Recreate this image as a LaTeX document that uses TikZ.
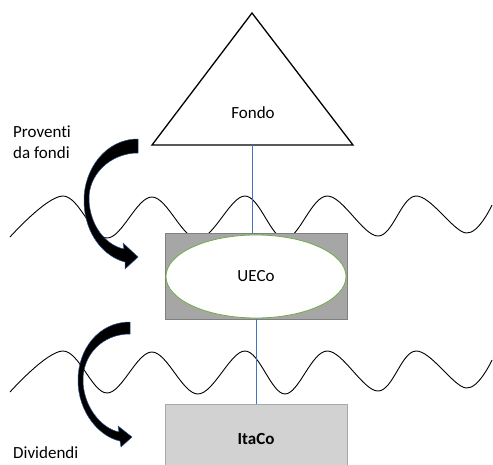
\documentclass[tikz,border=0pt]{standalone}
\usepackage{fontspec}
\setmainfont{Carlito}[Ligatures=NoCommon]
\usetikzlibrary{shapes.geometric}
\definecolor{conn}{HTML}{4472C4}
\definecolor{okgreen}{HTML}{70AD47}
\definecolor{boxdark}{HTML}{A6A6A6}
\definecolor{boxedge}{HTML}{808080}
\definecolor{boxlight}{HTML}{D2D2D2}
\definecolor{boxlightedge}{HTML}{A8A8A8}
\definecolor{arrowedge}{HTML}{2F528F}
\begin{document}
\begin{tikzpicture}[x=1pt,y=-1pt,
  lbl/.style={font=\fontsize{17}{21}\selectfont, inner sep=0pt},
  wave/.style={line width=0.9pt, black},
  bigarrow/.style={fill=black, draw=arrowedge, line width=0.5pt, line join=round},
  link/.style={draw=conn, line width=0.8pt}]
\path[use as bounding box] (0,0) rectangle (493,465);
\clip (0,0) rectangle (493,465);
\fill[white] (0,0) rectangle (493,465);

% waves
\draw[wave] plot[smooth, tension=0.6] coordinates {(10,237) (63,196) (107,238) (152,197) (198,239) (245,196) (285,239) (327,196) (378,236) (416,196) (466,233) (492,205)};
\draw[wave] plot[smooth, tension=0.6] coordinates {(10,392) (63,351) (107,393) (152,352) (198,394) (245,351) (285,394) (327,351) (378,391) (416,351) (466,388) (492,360)};

% triangle
\coordinate (apex) at (252,13);
\coordinate (bl) at (152,145);
\coordinate (br) at (353,145);
\coordinate (tribase) at (252,145);
\draw[line width=1.3pt, line join=miter, fill=white] (apex) -- (bl) -- (br) -- cycle;
\node[lbl, anchor=base] (fondo) at (253,119) {Fondo};

% UECo
\node[draw=boxedge, fill=boxdark, minimum width=182pt, minimum height=86pt, inner sep=0pt, line width=0.8pt] (uebox) at (256,276) {};
\node[ellipse, draw=okgreen, fill=white, minimum width=180pt, minimum height=83pt, inner sep=0pt, line width=0.8pt, font=\fontsize{17}{21}\selectfont] (ueco) at (256,276.5) {UECo};

% ItaCo
\node[draw=boxlightedge, fill=boxlight, minimum width=182pt, minimum height=70pt, inner sep=0pt, line width=0.8pt, font=\fontsize{17}{21}\selectfont\bfseries] (itaco) at (256,439) {ItaCo};

% connectors
\draw[link] (tribase) -- (tribase |- uebox.north);
\draw[link] (uebox.south) -- (itaco.north);

% curved arrows
\draw[bigarrow] (138,139) .. controls (105,139) and (84,170) .. (84,200)
 .. controls (84,235) and (105,257) .. (125,262)
 -- (125,269) -- (138,257) -- (123,243) -- (124,249)
 .. controls (105,245) and (90,225) .. (89,200)
 .. controls (88,175) and (110,153) .. (138,153) -- cycle;
\draw[bigarrow] (130,322) .. controls (98,322) and (78,350) .. (78,380)
 .. controls (78,413) and (100,437) .. (120,441)
 -- (121,447) -- (132,437) -- (118,426) -- (119,432)
 .. controls (100,428) and (83,405) .. (83,380)
 .. controls (83,355) and (102,334) .. (130,334) -- cycle;

% labels
\node[lbl, anchor=base west, align=left] (proventi) at (13,159) {Proventi\\da fondi};
\node[lbl, anchor=base west] (dividendi) at (13,458) {Dividendi};
\end{tikzpicture}
\end{document}
